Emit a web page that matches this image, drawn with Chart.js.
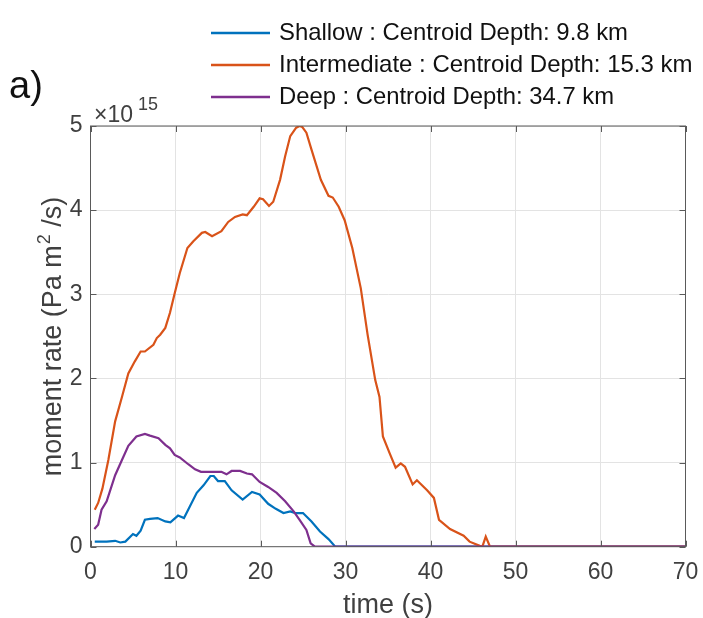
<!DOCTYPE html>
<html>
<head>
<meta charset="utf-8">
<script src="https://cdn.jsdelivr.net/npm/chart.js@4.4.1/dist/chart.umd.min.js"></script>
<style>
  body { margin: 0; background: #fff; }
  canvas { display: block; }
</style>
</head>
<body>
<canvas id="momentChart" width="703" height="618"></canvas>
<script>
// moment rate curves, values in units of 1e15 Pa m^2/s
const shallowTime = [0.5, 1.9, 2.9, 3.5, 4.1, 5.0, 5.4, 5.9, 6.4, 7.0, 7.9, 8.8, 9.4, 10.3, 11.0, 11.7, 12.5, 13.3, 14.1, 14.5, 15.0, 15.8, 16.6, 17.9, 19.0, 19.9, 20.9, 21.8, 22.7, 23.5, 24.1, 25.0, 26.0, 27.0, 28.0, 28.8, 70];
const shallowRate = [0.06, 0.06, 0.07, 0.05, 0.06, 0.15, 0.13, 0.19, 0.32, 0.33, 0.34, 0.30, 0.29, 0.37, 0.34, 0.48, 0.64, 0.73, 0.84, 0.84, 0.78, 0.78, 0.67, 0.56, 0.65, 0.62, 0.51, 0.45, 0.40, 0.42, 0.40, 0.40, 0.30, 0.18, 0.09, 0, 0];

const interTime = [0.5, 0.9, 1.4, 2.1, 2.9, 3.7, 4.45, 5.2, 5.9, 6.4, 7.4, 7.8, 8.2, 8.8, 9.35, 9.9, 10.5, 11.4, 12.1, 13.1, 13.5, 14.3, 15.4, 16.2, 17.0, 17.9, 18.4, 19.2, 19.9, 20.3, 21.0, 21.5, 22.3, 22.9, 23.5, 24.2, 24.6, 24.9, 25.4, 26.0, 27.1, 28.0, 28.5, 29.2, 29.9, 30.8, 31.8, 32.6, 33.5, 34.0, 34.4, 35.2, 35.9, 36.5, 37.0, 37.9, 38.4, 39.6, 40.4, 41.0, 42.3, 43.9, 44.6, 45.8, 46.1, 46.5, 47.0, 70];
const interRate = [0.44, 0.52, 0.69, 1.03, 1.49, 1.78, 2.06, 2.20, 2.32, 2.32, 2.40, 2.48, 2.52, 2.60, 2.78, 3.01, 3.25, 3.55, 3.63, 3.73, 3.74, 3.69, 3.75, 3.86, 3.92, 3.95, 3.94, 4.04, 4.14, 4.13, 4.05, 4.10, 4.36, 4.64, 4.88, 4.98, 5.0, 4.99, 4.92, 4.72, 4.36, 4.17, 4.15, 4.04, 3.88, 3.55, 3.07, 2.52, 1.98, 1.78, 1.31, 1.11, 0.94, 0.99, 0.95, 0.74, 0.79, 0.67, 0.58, 0.32, 0.21, 0.13, 0.06, 0.01, 0, 0.12, 0, 0];

const deepTime = [0.45, 0.9, 1.3, 1.9, 2.9, 3.7, 4.45, 5.4, 6.4, 7.0, 8.0, 8.8, 9.35, 9.9, 10.5, 11.5, 12.3, 13.0, 14.8, 15.4, 16.0, 16.6, 17.6, 18.4, 19.0, 19.9, 20.9, 21.9, 22.9, 23.9, 24.6, 25.4, 25.9, 26.4, 70];
const deepRate = [0.21, 0.26, 0.44, 0.54, 0.85, 1.03, 1.20, 1.31, 1.34, 1.32, 1.29, 1.21, 1.17, 1.09, 1.06, 0.98, 0.92, 0.89, 0.89, 0.89, 0.86, 0.90, 0.90, 0.87, 0.86, 0.77, 0.71, 0.64, 0.54, 0.42, 0.32, 0.20, 0.04, 0, 0];

const xTicks = [0, 10, 20, 30, 40, 50, 60, 70];
const yTicks = [0, 1, 2, 3, 4, 5];

const seriesNames = [
  'Shallow : Centroid Depth: 9.8 km',
  'Intermediate : Centroid Depth: 15.3 km',
  'Deep : Centroid Depth: 34.7 km'
];
const seriesColors = ['#0072BD', '#D95319', '#7E2F8E'];

function toPoints(times, rates) {
    return times.map((t, i) => ({ x: t, y: rates[i] }));
}

const textColor = '#404040';
const axisColor = '#5a5a5a';
const tickFont = '"Liberation Sans", Arial, sans-serif';

// extras drawn the MATLAB way: boxed axes with inward ticks, legend, labels
const figureExtras = {
    id: 'figureExtras',
    afterDraw(chart) {
        const ctx = chart.ctx;
        const area = chart.chartArea;
        const xs = chart.scales.x, ys = chart.scales.y;
        ctx.save();

        // box
        ctx.strokeStyle = axisColor;
        ctx.lineWidth = 1;
        ctx.strokeRect(area.left, area.top, area.right - area.left, area.bottom - area.top);

        // inward ticks
        const tl = 6;
        ctx.beginPath();
        xTicks.forEach(v => {
            const px = Math.round(xs.getPixelForValue(v)) + 0.5;
            ctx.moveTo(px, area.bottom); ctx.lineTo(px, area.bottom - tl);
            ctx.moveTo(px, area.top); ctx.lineTo(px, area.top + tl);
        });
        yTicks.forEach(v => {
            const py = Math.round(ys.getPixelForValue(v)) + 0.5;
            ctx.moveTo(area.left, py); ctx.lineTo(area.left + tl, py);
            ctx.moveTo(area.right, py); ctx.lineTo(area.right - tl, py);
        });
        ctx.stroke();

        // exponent label
        ctx.fillStyle = textColor;
        ctx.textBaseline = 'alphabetic';
        ctx.textAlign = 'left';
        ctx.font = '23px ' + tickFont;
        ctx.fillText('\u00d710', 94, 122);
        ctx.font = '18px ' + tickFont;
        ctx.fillText('15', 138, 110);

        // axis titles
        ctx.font = '27px ' + tickFont;
        ctx.textAlign = 'center';
        ctx.textBaseline = 'alphabetic';
        ctx.fillText('time (s)', (area.left + area.right) / 2, 613);

        ctx.save();
        ctx.translate(61, 337);
        ctx.rotate(-Math.PI / 2);
        const p1 = 'moment rate (Pa m', p2 = '2', p3 = ' /s)';
        ctx.font = '27px ' + tickFont;
        const w1 = ctx.measureText(p1).width, w3 = ctx.measureText(p3).width;
        ctx.font = '18px ' + tickFont;
        const w2 = ctx.measureText(p2).width;
        let x0 = -(w1 + w2 + w3) / 2;
        ctx.textAlign = 'left';
        ctx.font = '27px ' + tickFont;
        ctx.fillText(p1, x0, 0);
        ctx.font = '18px ' + tickFont;
        ctx.fillText(p2, x0 + w1 + 1, -11);
        ctx.font = '27px ' + tickFont;
        ctx.fillText(p3, x0 + w1 + w2 + 1, 0);
        ctx.restore();

        // panel letter
        ctx.fillStyle = '#111';
        ctx.font = '38px ' + tickFont;
        ctx.textAlign = 'left';
        ctx.fillText('a)', 9, 98);

        // legend, squeezed to the width of the original condensed face
        const rows = [33, 65, 97];
        const rowEnds = [628, 696, 614];
        ctx.font = '24px ' + tickFont;
        ctx.textBaseline = 'middle';
        rows.forEach((y, i) => {
            ctx.strokeStyle = seriesColors[i];
            ctx.lineWidth = 2.5;
            ctx.beginPath();
            ctx.moveTo(211, y); ctx.lineTo(270, y);
            ctx.stroke();
            ctx.fillStyle = '#111';
            ctx.fillText(seriesNames[i], 279, y, rowEnds[i] - 279);
        });

        ctx.restore();
    }
};

const ctx = document.getElementById('momentChart').getContext('2d');
new Chart(ctx, {
    type: 'line',
    data: {
        datasets: [
            { label: seriesNames[0], data: toPoints(shallowTime, shallowRate), borderColor: seriesColors[0], order: 2 },
            { label: seriesNames[1], data: toPoints(interTime, interRate), borderColor: seriesColors[1], order: 1 },
            { label: seriesNames[2], data: toPoints(deepTime, deepRate), borderColor: seriesColors[2], order: 0 }
        ]
    },
    options: {
        responsive: false,
        animation: false,
        layout: { padding: { left: 0, top: 126, right: 17.5, bottom: 0 } },
        elements: {
            line: { borderWidth: 2.2, tension: 0, fill: false },
            point: { radius: 0 }
        },
        plugins: {
            legend: { display: false },
            tooltip: { enabled: false }
        },
        scales: {
            x: {
                type: 'linear',
                min: 0, max: 70,
                afterFit: s => { s.height = 71.3; s.paddingLeft = 0; s.paddingRight = 0; },
                afterBuildTicks: s => { s.ticks = xTicks.map(v => ({ value: v })); },
                grid: { color: '#e3e3e3', drawTicks: false },
                border: { display: false },
                ticks: { color: textColor, font: { family: tickFont, size: 23 }, padding: 12, maxRotation: 0 }
            },
            y: {
                type: 'linear',
                min: 0, max: 5,
                afterFit: s => { s.width = 90.5; s.paddingTop = 0; s.paddingBottom = 0; },
                afterBuildTicks: s => { s.ticks = yTicks.map(v => ({ value: v })); },
                grid: { color: '#e3e3e3', drawTicks: false },
                border: { display: false },
                ticks: { color: textColor, font: { family: tickFont, size: 23 }, padding: 8 }
            }
        }
    },
    plugins: [figureExtras]
});
</script>
</body>
</html>
